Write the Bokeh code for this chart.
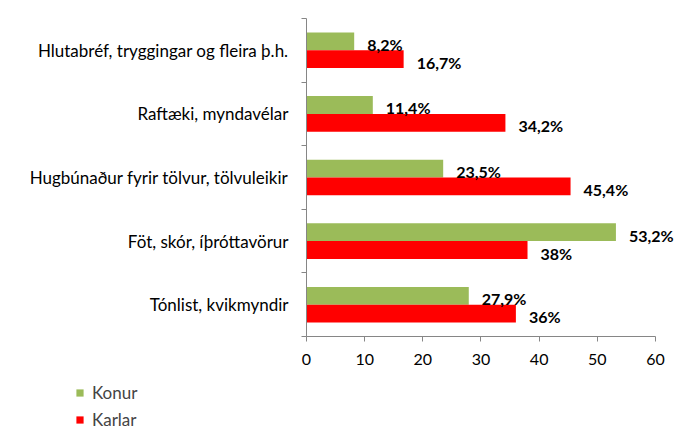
from bokeh.plotting import figure
from bokeh.layouts import column, row
from bokeh.models import ColumnDataSource, FixedTicker, Legend, LegendItem, Range1d
from bokeh.core.properties import value
from bokeh.embed import file_html
from bokeh.resources import INLINE

categories = ["Hlutabréf, tryggingar og fleira þ.h.", "Raftæki, myndavélar",
              "Hugbúnaður fyrir tölvur, tölvuleikir", "Föt, skór, íþróttavörur",
              "Tónlist, kvikmyndir"]
konur = [8.2, 11.4, 23.5, 53.2, 27.9]
karlar = [16.7, 34.2, 45.4, 38, 36]
series_names = ["Konur", "Karlar"]
x_ticks = [0, 10, 20, 30, 40, 50, 60]

GREEN = "#9BBB59"
RED = "#FF0000"
FONT = "Lato"
AXIS_COLOR = "#868686"

n = len(categories)
centers = [n - i - 0.5 for i in range(n)]
bar_h = 0.28
off = 0.14

def fmt(v):
    return f"{v:g}".replace(".", ",") + "%"

src_k = ColumnDataSource(dict(y=[c + off for c in centers], x=konur, lab=[fmt(v) for v in konur]))
src_m = ColumnDataSource(dict(y=[c - off for c in centers], x=karlar, lab=[fmt(v) for v in karlar]))

p = figure(width=674, height=382, output_backend="svg", toolbar_location=None,
           x_range=Range1d(0, 63.27), y_range=Range1d(0, n),
           min_border_left=306, min_border_right=0, min_border_top=18, min_border_bottom=46)
p.outline_line_color = None
p.xgrid.grid_line_color = None
p.ygrid.grid_line_color = None

p.hbar(y="y", right="x", left=0, height=bar_h, source=src_k, fill_color=GREEN, line_color=None)
p.hbar(y="y", right="x", left=0, height=bar_h, source=src_m, fill_color=RED, line_color=None)

p.text(x="x", y="y", text="lab", source=src_k, x_offset=13, y_offset=3,
       text_font=value(FONT), text_font_size="16px", text_font_style="bold",
       text_baseline="middle", text_align="left", text_color="black")
p.text(x="x", y="y", text="lab", source=src_m, x_offset=13, y_offset=3,
       text_font=value(FONT), text_font_size="16px", text_font_style="bold",
       text_baseline="middle", text_align="left", text_color="black")

# x axis
xa = p.xaxis[0]
xa.ticker = FixedTicker(ticks=x_ticks)
xa.bounds = (0, 60)
xa.axis_line_color = AXIS_COLOR
xa.major_tick_line_color = AXIS_COLOR
xa.major_tick_in = 0
xa.major_tick_out = 5
xa.minor_tick_line_color = None
xa.major_label_text_font = FONT
xa.major_label_text_font_size = "16px"
xa.major_label_text_color = "black"
xa.major_label_standoff = 12

# y axis: labels at category centres, tick marks at category boundaries
ya = p.yaxis[0]
ya.ticker = FixedTicker(ticks=centers, minor_ticks=list(range(n + 1)))
ya.major_label_overrides = {c: cat for c, cat in zip(centers, categories)}
ya.axis_line_color = AXIS_COLOR
ya.major_tick_line_color = None
ya.major_tick_in = 0
ya.major_tick_out = 5
ya.minor_tick_line_color = AXIS_COLOR
ya.minor_tick_in = 0
ya.minor_tick_out = 5
ya.major_label_text_font = FONT
ya.major_label_text_font_size = "17px"
ya.major_label_text_color = "black"
ya.major_label_standoff = 13

# legend strip below the chart (bars themselves lie outside this strip's view)
pl = figure(width=674, height=48, output_backend="svg", toolbar_location=None,
            x_range=Range1d(-2, -1), y_range=Range1d(-2, -1),
            x_axis_type=None, y_axis_type=None,
            min_border_left=0, min_border_right=0, min_border_top=0, min_border_bottom=0)
pl.outline_line_color = None
pl.xgrid.grid_line_color = None
pl.ygrid.grid_line_color = None
lk = pl.hbar(y="y", right="x", left=0, height=bar_h, source=src_k, fill_color=GREEN, line_color=None)
lm = pl.hbar(y="y", right="x", left=0, height=bar_h, source=src_m, fill_color=RED, line_color=None)
legend = Legend(items=[LegendItem(label=series_names[0], renderers=[lk]),
                       LegendItem(label=series_names[1], renderers=[lm])],
                location=(75, 0), orientation="vertical",
                border_line_color=None, background_fill_alpha=0,
                label_text_font=FONT, label_text_font_size="17px",
                glyph_width=9, glyph_height=9, label_height=20, spacing=6,
                padding=0, margin=0, label_standoff=8)
pl.add_layout(legend, "center")

open("out.html", "w").write(file_html(column(p, row(pl)), INLINE))
